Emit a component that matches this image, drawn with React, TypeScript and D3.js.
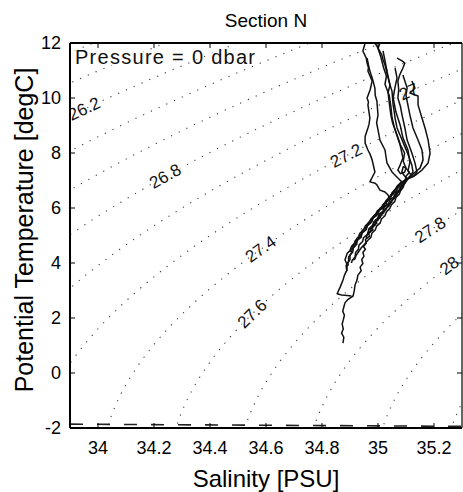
import React, { useMemo } from "react";
import * as d3 from "d3";

const W = 463;
const H = 492;
const PLOT = { left: 70, right: 462, top: 43, bottom: 428 };

const xDomain: [number, number] = [33.9, 35.3];
const yDomain: [number, number] = [-2, 12];
const xTicks = [34, 34.2, 34.4, 34.6, 34.8, 35, 35.2];
const yTicks = [-2, 0, 2, 4, 6, 8, 10, 12];

const sigmaLevels = [
  25.4, 25.6, 25.8, 26.0, 26.2, 26.4, 26.6, 26.8, 27.0, 27.2, 27.4, 27.6,
  27.8, 28.0, 28.2, 28.4, 28.6,
];
const labelLevels = [26.2, 26.8, 27.0, 27.2, 27.4, 27.6, 27.8, 28.0];
const labelTexts = ["26.2", "26.8", "27", "27.2", "27.4", "27.6", "27.8", "28"];
const labelS = [33.954, 34.25, 35.107, 34.889, 34.586, 34.525, 35.193, 35.257];
const labelT = [9.53, 7.02, 10.29, 7.82, 4.47, 2.47, 5.13, 3.85];

// freezing line (dashed)
const freezeS = [33.9, 35.3];
const freezeT = [-1.86, -1.94];

type P = [number, number];

const profile1: P[] = [
  [34.954, 12.0], [34.946, 11.71], [34.958, 11.45], [34.961, 11.27], [34.966, 11.1],
  [34.964, 10.98], [34.979, 10.62], [34.972, 10.3], [34.961, 10.0], [34.966, 9.85],
  [34.964, 9.75], [34.971, 9.27], [34.968, 9.05], [34.964, 8.91], [34.954, 8.6],
  [34.954, 8.36], [34.964, 8.11], [34.972, 7.95], [34.979, 7.75], [34.989, 7.31],
  [34.971, 6.95], [34.99, 6.9], [34.996, 6.84], [35.007, 6.65], [35.025, 6.58],
  [35.036, 6.47], [35.041, 6.36], [35.028, 6.24], [35.033, 6.12], [35.016, 6.0],
  [35.021, 5.9], [35.004, 5.78], [35.008, 5.66], [34.99, 5.55], [34.996, 5.45],
  [34.978, 5.33], [34.982, 5.2], [34.965, 5.1], [34.97, 4.98], [34.955, 4.86],
  [34.958, 4.72], [34.948, 4.6], [34.955, 4.5], [34.946, 4.38], [34.95, 4.25],
  [34.942, 4.12], [34.946, 3.98], [34.936, 3.85], [34.94, 3.72], [34.928, 3.55],
  [34.925, 3.38], [34.918, 3.2], [34.915, 2.98], [34.911, 2.8], [34.893, 2.68],
  [34.882, 2.55], [34.878, 2.4], [34.874, 2.25], [34.88, 2.1], [34.876, 1.93],
  [34.872, 1.78], [34.876, 1.6], [34.87, 1.45], [34.878, 1.3], [34.875, 1.09],
];
const profile2: P[] = [
  [34.961, 11.45], [34.966, 11.2], [34.971, 10.98], [34.98, 10.7], [34.989, 10.36],
  [34.99, 10.1], [34.996, 9.89], [35.0, 9.38], [34.995, 9.1], [35.0, 8.84],
  [35.007, 8.47], [35.025, 8.11], [35.028, 7.9], [35.032, 7.64], [35.05, 7.31],
  [35.071, 7.09], [35.085, 6.95], [35.07, 6.82], [35.062, 6.68], [35.05, 6.55],
  [35.043, 6.4], [35.03, 6.28], [35.022, 6.12], [35.008, 6.0], [35.0, 5.85],
  [34.985, 5.72], [34.978, 5.58], [34.965, 5.45], [34.958, 5.3], [34.944, 5.18],
  [34.938, 5.02], [34.925, 4.9], [34.92, 4.75], [34.906, 4.62], [34.902, 4.47],
  [34.89, 4.35], [34.882, 4.11], [34.89, 3.95], [34.889, 3.75], [34.88, 3.55],
  [34.875, 3.38], [34.866, 3.15], [34.854, 2.88], [34.87, 2.84], [34.89, 2.82],
  [34.905, 2.8],
];
const profile3: P[] = [
  [34.989, 12.0], [34.996, 11.89], [35.014, 11.56], [35.018, 11.4], [35.025, 11.2],
  [35.036, 10.73], [35.042, 10.5], [35.05, 10.25], [35.054, 9.75], [35.058, 9.5],
  [35.061, 9.27], [35.068, 8.91], [35.086, 8.47], [35.095, 8.25], [35.104, 8.04],
  [35.121, 7.56], [35.125, 7.31], [35.115, 7.15], [35.098, 7.02], [35.088, 6.9],
  [35.072, 6.78], [35.066, 6.62], [35.05, 6.5], [35.045, 6.35], [35.028, 6.22],
  [35.022, 6.06], [35.005, 5.94], [35.0, 5.78], [34.984, 5.66], [34.978, 5.5],
  [34.963, 5.38], [34.958, 5.22], [34.944, 5.1], [34.938, 4.95], [34.924, 4.82],
  [34.92, 4.66], [34.908, 4.52], [34.905, 4.36], [34.895, 4.22], [34.895, 4.05],
  [34.886, 3.9], [34.889, 3.7],
];
const profile4: P[] = [
  [35.018, 11.71], [35.026, 11.3], [35.032, 10.98], [35.043, 10.47], [35.036, 10.2],
  [35.039, 9.93], [35.046, 9.38], [35.052, 9.1], [35.061, 8.84], [35.079, 8.29],
  [35.089, 7.82], [35.079, 7.56], [35.071, 7.38], [35.08, 7.25], [35.095, 7.3],
  [35.1, 7.45], [35.09, 7.5], [35.085, 7.3], [35.1, 7.1], [35.094, 6.98],
  [35.088, 6.85], [35.08, 6.72], [35.075, 6.6], [35.062, 6.48], [35.058, 6.35],
  [35.044, 6.22], [35.04, 6.08], [35.025, 5.96], [35.02, 5.82], [35.004, 5.7],
  [35.0, 5.56], [34.985, 5.44], [34.98, 5.3], [34.966, 5.18], [34.962, 5.04],
  [34.948, 4.92], [34.945, 4.78], [34.932, 4.65], [34.93, 4.5], [34.92, 4.38],
  [34.918, 4.22], [34.908, 4.1], [34.905, 4.0],
];
const profile5: P[] = [
  [35.068, 11.45], [35.086, 11.35], [35.096, 11.27], [35.089, 11.09], [35.078, 10.85],
  [35.071, 10.62], [35.074, 10.3], [35.071, 10.0], [35.08, 9.7], [35.086, 9.38],
  [35.096, 8.91], [35.104, 8.47], [35.121, 8.0], [35.132, 7.64], [35.139, 7.31],
  [35.128, 7.15], [35.105, 7.05], [35.085, 6.95], [35.072, 6.82], [35.062, 6.68],
  [35.052, 6.55], [35.042, 6.42], [35.033, 6.3], [35.02, 6.15], [35.012, 6.02],
  [34.998, 5.9], [34.99, 5.75], [34.976, 5.62], [34.968, 5.48], [34.955, 5.35],
  [34.948, 5.2], [34.935, 5.08], [34.93, 4.94], [34.918, 4.8], [34.914, 4.66],
  [34.902, 4.52], [34.9, 4.4],
];
const profile6: P[] = [
  [35.061, 11.09], [35.068, 10.73], [35.06, 10.35], [35.054, 10.0], [35.064, 9.49],
  [35.079, 9.02], [35.089, 8.55], [35.107, 8.11], [35.114, 7.67], [35.107, 7.35],
  [35.118, 7.2], [35.108, 7.08], [35.1, 6.95], [35.09, 6.82], [35.084, 6.7],
  [35.072, 6.58], [35.066, 6.45], [35.052, 6.32], [35.048, 6.2], [35.034, 6.06],
  [35.028, 5.94], [35.014, 5.8], [35.008, 5.66], [34.994, 5.52], [34.99, 5.38],
  [34.976, 5.25], [34.972, 5.12], [34.96, 5.0], [34.958, 4.9],
];
const profile7: P[] = [
  [35.089, 10.84], [35.104, 10.36], [35.1, 10.1], [35.104, 9.89], [35.114, 9.38],
  [35.125, 8.91], [35.143, 8.47], [35.157, 8.11], [35.161, 7.75], [35.15, 7.45],
  [35.132, 7.3], [35.12, 7.18], [35.104, 7.05], [35.096, 6.92], [35.082, 6.8],
  [35.076, 6.66], [35.062, 6.54], [35.056, 6.4], [35.042, 6.28], [35.037, 6.14],
  [35.022, 6.02], [35.018, 5.88], [35.004, 5.76], [34.998, 5.62], [34.985, 5.5],
  [34.98, 5.36], [34.968, 5.25], [34.966, 5.2],
];
const profile8: P[] = [
  [35.121, 10.62], [35.132, 10.36], [35.114, 10.18], [35.143, 10.07], [35.143, 9.75],
  [35.157, 9.27], [35.168, 8.91], [35.179, 8.47], [35.186, 8.0], [35.179, 7.64],
  [35.157, 7.38], [35.135, 7.2], [35.115, 7.12], [35.098, 7.0], [35.08, 6.9],
  [35.074, 6.75], [35.058, 6.64], [35.054, 6.5], [35.038, 6.38], [35.034, 6.24],
  [35.018, 6.12], [35.014, 5.98], [34.998, 5.86], [34.994, 5.72], [34.978, 5.6],
  [34.974, 5.46], [34.96, 5.34], [34.956, 5.2], [34.942, 5.08], [34.94, 4.94],
  [34.926, 4.82], [34.924, 4.68], [34.912, 4.55], [34.91, 4.4], [34.9, 4.28],
  [34.9, 4.12], [34.892, 4.0], [34.894, 3.9],
];
const profile9: P[] = [
  [35.007, 12.0], [35.0, 11.8], [35.01, 11.5], [35.02, 11.1], [35.03, 10.8],
  [35.025, 10.5], [35.04, 10.1], [35.046, 9.7], [35.05, 9.3], [35.058, 8.95],
  [35.07, 8.6], [35.08, 8.3], [35.095, 8.0], [35.09, 7.7], [35.1, 7.45],
  [35.112, 7.3], [35.1, 7.15], [35.1, 7.0], [35.094, 6.88], [35.09, 6.75],
  [35.08, 6.62], [35.076, 6.5], [35.064, 6.38], [35.06, 6.24], [35.048, 6.12],
  [35.042, 5.98], [35.03, 5.86], [35.025, 5.72], [35.012, 5.6], [35.008, 5.46],
  [34.995, 5.34], [34.99, 5.2], [34.978, 5.08], [34.975, 4.94], [34.963, 4.82],
  [34.952, 4.68], [34.94, 4.55], [34.93, 4.4], [34.922, 4.28], [34.918, 4.16],
  [34.912, 4.1],
];
const profiles = [profile1, profile2, profile3, profile4, profile5, profile6, profile7, profile8, profile9];

// UNESCO 1983 equation of state at p = 0 (sigma-theta)
function sigma0(S: number, T: number): number {
  const rw =
    999.842594 + 6.793952e-2 * T - 9.09529e-3 * T * T + 1.001685e-4 * T ** 3 -
    1.120083e-6 * T ** 4 + 6.536332e-9 * T ** 5;
  const A = 8.24493e-1 - 4.0899e-3 * T + 7.6438e-5 * T * T - 8.2467e-7 * T ** 3 + 5.3875e-9 * T ** 4;
  const B = -5.72466e-3 + 1.0227e-4 * T - 1.6546e-6 * T * T;
  const C = 4.8314e-4;
  return rw + A * S + B * Math.pow(S, 1.5) + C * S * S - 1000;
}

const FONT = "'Liberation Sans', Arial, Helvetica, sans-serif";

export default function App() {
  const x = d3.scaleLinear().domain(xDomain).range([PLOT.left, PLOT.right]);
  const y = d3.scaleLinear().domain(yDomain).range([PLOT.bottom, PLOT.top]);

  const { contourPaths, labels } = useMemo(() => {
    const S0 = 33.7, dS = 0.01, nx = 181;
    const T0 = -2.6, dT = 0.05, ny = 305;
    const values = new Array(nx * ny);
    for (let j = 0; j < ny; j++) {
      for (let i = 0; i < nx; i++) {
        values[i + j * nx] = sigma0(S0 + i * dS, T0 + j * dT);
      }
    }
    const cs = d3.contours().size([nx, ny]).thresholds(sigmaLevels)(values);
    const toPx = (p: number[]): [number, number] => [
      x(S0 + (p[0] - 0.5) * dS),
      y(T0 + (p[1] - 0.5) * dT),
    ];
    const line = d3.line();
    const paths: { value: number; d: string }[] = [];
    const ringsByLevel = new Map<number, [number, number][][]>();
    cs.forEach((c) => {
      const rings: [number, number][][] = [];
      let d = "";
      c.coordinates.forEach((poly) =>
        poly.forEach((ring) => {
          const pr = ring.map(toPx);
          rings.push(pr);
          d += line(pr) || "";
        })
      );
      ringsByLevel.set(Math.round(c.value * 10) / 10, rings);
      paths.push({ value: c.value, d });
    });
    const labs = labelLevels.map((lv, k) => {
      const tx = x(labelS[k]);
      const ty = y(labelT[k]);
      const rings = ringsByLevel.get(Math.round(lv * 10) / 10) || [];
      let best = { d: Infinity, r: -1, i: -1 };
      rings.forEach((r, ri) =>
        r.forEach((p, pi) => {
          if (p[0] < PLOT.left || p[0] > PLOT.right || p[1] < PLOT.top || p[1] > PLOT.bottom) return;
          const dd = (p[0] - tx) ** 2 + (p[1] - ty) ** 2;
          if (dd < best.d) best = { d: dd, r: ri, i: pi };
        })
      );
      if (best.r < 0) return { x: tx, y: ty, a: -35, text: labelTexts[k] };
      const r = rings[best.r];
      const p = r[best.i];
      const a0 = r[Math.max(0, best.i - 4)];
      const a1 = r[Math.min(r.length - 1, best.i + 4)];
      let ang = (Math.atan2(a1[1] - a0[1], a1[0] - a0[0]) * 180) / Math.PI;
      if (ang > 90) ang -= 180;
      if (ang < -90) ang += 180;
      return { x: p[0], y: p[1], a: ang, text: labelTexts[k] };
    });
    return { contourPaths: paths, labels: labs };
  }, []);

  const profLine = d3
    .line<P>()
    .x((d) => x(d[0]))
    .y((d) => y(d[1]));

  const freezeLine = d3
    .line<number>()
    .x((_, i) => x(freezeS[i]))
    .y((_, i) => y(freezeT[i]));

  const yLabelY = 230;

  return (
    <svg
      width={W}
      height={H}
      style={{ position: "absolute", left: 0, top: 0, background: "#fff" }}
      fontFamily={FONT}
    >
      <defs>
        <clipPath id="plotclip">
          <rect x={PLOT.left} y={PLOT.top} width={PLOT.right - PLOT.left} height={PLOT.bottom - PLOT.top} />
        </clipPath>
      </defs>
      <rect x={0} y={0} width={W} height={H} fill="#fff" />
      <g clipPath="url(#plotclip)">
        {contourPaths.map((c, i) => (
          <path key={i} d={c.d} fill="none" stroke="#3a3a3a" strokeWidth={1.1} strokeDasharray="1.2 7.3" />
        ))}
        {labels.map((l, i) => (
          <text
            key={i}
            x={l.x}
            y={l.y}
            transform={`rotate(${l.a} ${l.x} ${l.y})`}
            textAnchor="middle"
            dominantBaseline="central"
            fontSize={17}
            fill="#111"
            stroke="#fff"
            strokeWidth={3}
            paintOrder="stroke"
          >
            {l.text}
          </text>
        ))}
        <text
          x={75}
          y={64}
          fontSize={20}
          textLength={180}
          lengthAdjust="spacing"
          fill="#111"
          stroke="#fff"
          strokeWidth={3}
          paintOrder="stroke"
        >
          Pressure = 0 dbar
        </text>
        {profiles.map((p, i) => (
          <path key={i} d={profLine(p) || ""} fill="none" stroke="#111" strokeWidth={1.5} strokeLinejoin="round" />
        ))}
        <path
          d={freezeLine(freezeS) || ""}
          fill="none"
          stroke="#222"
          strokeWidth={1.6}
          strokeDasharray="13 14"
        />
      </g>
      {/* frame */}
      <line x1={PLOT.left} x2={PLOT.right} y1={PLOT.top} y2={PLOT.top} stroke="#000" strokeWidth={2} />
      <line x1={PLOT.left} x2={PLOT.right} y1={PLOT.bottom} y2={PLOT.bottom} stroke="#000" strokeWidth={2} />
      <line x1={PLOT.left} x2={PLOT.left} y1={PLOT.top} y2={PLOT.bottom} stroke="#000" strokeWidth={2} />
      <line x1={PLOT.right} x2={PLOT.right} y1={PLOT.top} y2={PLOT.bottom} stroke="#000" strokeWidth={1.2} />
      {xTicks.map((t) => (
        <g key={"x" + t}>
          <line x1={x(t)} x2={x(t)} y1={PLOT.bottom} y2={PLOT.bottom - 5} stroke="#000" />
          <line x1={x(t)} x2={x(t)} y1={PLOT.top} y2={PLOT.top + 5} stroke="#000" />
          <text x={x(t)} y={454} textAnchor="middle" fontSize={18} fill="#000">
            {String(t)}
          </text>
        </g>
      ))}
      {yTicks.map((t) => (
        <g key={"y" + t}>
          <line x1={PLOT.left} x2={PLOT.left + 5} y1={y(t)} y2={y(t)} stroke="#000" />
          <line x1={PLOT.right} x2={PLOT.right - 5} y1={y(t)} y2={y(t)} stroke="#000" />
          <text x={61} y={y(t)} textAnchor="end" dominantBaseline="central" fontSize={18} fill="#000">
            {String(t)}
          </text>
        </g>
      ))}
      <text x={(PLOT.left + PLOT.right) / 2} y={27} textAnchor="middle" fontSize={19} fill="#000">
        Section N
      </text>
      <text x={(PLOT.left + PLOT.right) / 2} y={487} textAnchor="middle" fontSize={24} fill="#000">
        Salinity [PSU]
      </text>
      <text
        x={33}
        y={yLabelY}
        transform={`rotate(-90 33 ${yLabelY})`}
        textAnchor="middle"
        fontSize={25}
        fill="#000"
      >
        Potential Temperature [degC]
      </text>
    </svg>
  );
}
